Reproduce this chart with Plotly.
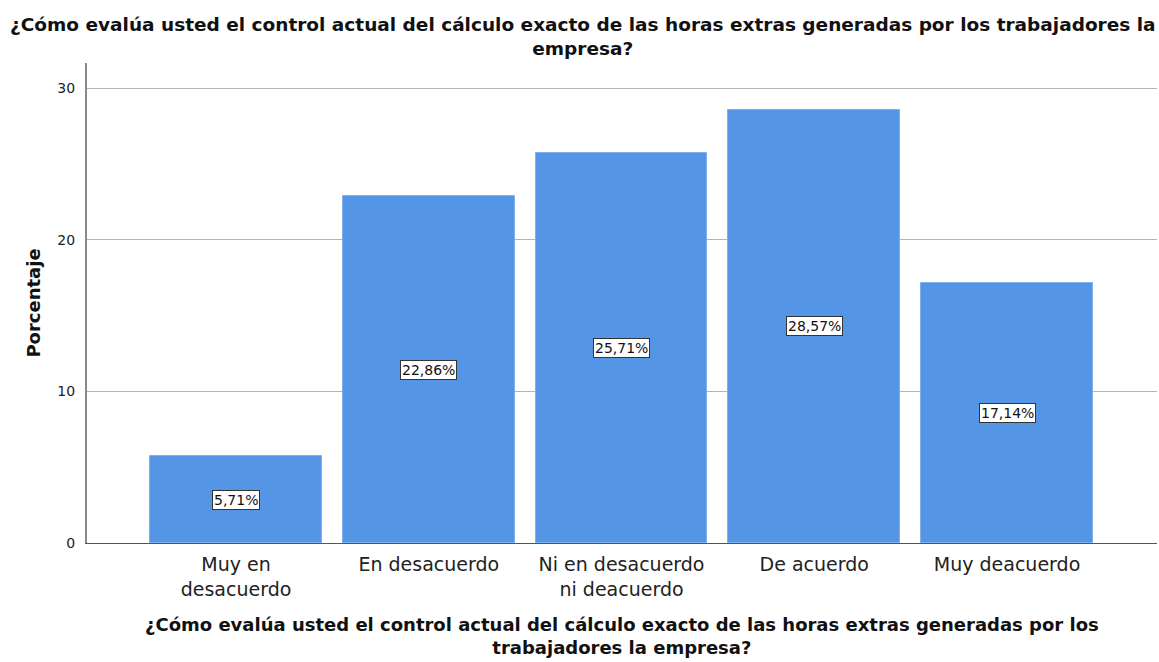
import plotly.graph_objects as go

categorias = ["Muy en<br>desacuerdo", "En desacuerdo", "Ni en desacuerdo<br>ni deacuerdo",
              "De acuerdo", "Muy deacuerdo"]
porcentajes = [5.71, 22.86, 25.71, 28.57, 17.14]
etiquetas = ["5,71%", "22,86%", "25,71%", "28,57%", "17,14%"]
y_ticks = [0, 10, 20, 30]

titulo = ("¿Cómo evalúa usted el control actual del cálculo exacto de las horas extras generadas por los trabajadores la"
          "<br>empresa?")
titulo_x = ("¿Cómo evalúa usted el control actual del cálculo exacto de las horas extras generadas por los"
            "<br>trabajadores la empresa?")

FONT = "DejaVu Sans, Verdana, sans-serif"
BAR_COLOR = "#5595e5"

fig = go.Figure()
fig.add_trace(go.Bar(
    x=list(range(len(categorias))),
    y=porcentajes,
    width=0.892,
    marker=dict(color=BAR_COLOR, line=dict(color="#7fb0ee", width=1)),
    hoverinfo="skip",
))

# value labels boxed in the middle of each bar
for i, (v, t) in enumerate(zip(porcentajes, etiquetas)):
    fig.add_annotation(
        x=i, y=v / 2, text=t, showarrow=False,
        font=dict(family=FONT, size=14, color="#111111"),
        bgcolor="white", bordercolor="#333333", borderwidth=1, borderpad=1,
    )

# chart title
fig.add_annotation(
    xref="paper", yref="paper", x=0.4636, y=1.056,
    text=titulo, showarrow=False, xanchor="center", yanchor="middle",
    font=dict(family=FONT, size=18.5, color="#111111", weight="bold"),
)

# x-axis title
fig.add_annotation(
    xref="paper", yref="paper", x=0.5, y=-0.194,
    text=titulo_x, showarrow=False, xanchor="center", yanchor="middle",
    font=dict(family=FONT, size=18, color="#111111", weight="bold"),
)

fig.update_layout(
    width=1159, height=662,
    margin=dict(l=87, r=2, t=63, b=119),
    paper_bgcolor="white", plot_bgcolor="white",
    showlegend=False,
    bargap=0,
    xaxis=dict(
        tickmode="array",
        tickvals=list(range(len(categorias))),
        ticktext=categorias,
        range=[-0.773, 4.778],
        showgrid=False, zeroline=False,
        showline=True, linecolor="#555555", linewidth=1,
        ticks="", ticklen=0, ticklabelstandoff=4,
        tickfont=dict(family=FONT, size=19, color="#222222"),
    ),
    yaxis=dict(
        range=[0, 31.65],
        tickmode="array", tickvals=y_ticks,
        showgrid=True, gridcolor="#b4b4b4", gridwidth=1,
        zeroline=False,
        showline=True, linecolor="#8a8a8a", linewidth=2,
        ticks="", ticklabelstandoff=7,
        tickfont=dict(family=FONT, size=14, color="#222222"),
        title=dict(text="Porcentaje", font=dict(family=FONT, size=18, color="#111111", weight="bold"),
                   standoff=12),
    ),
)

fig.write_html("out.html")
